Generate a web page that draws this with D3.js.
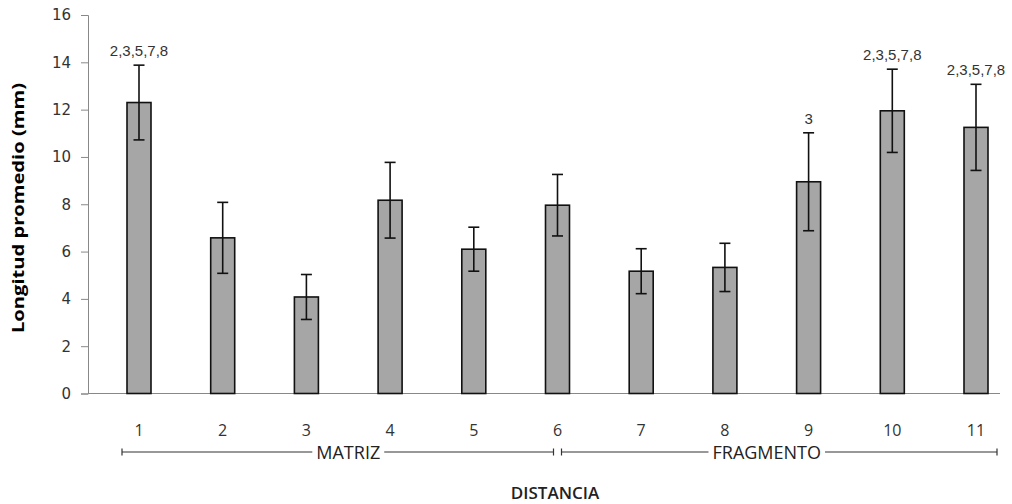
<!DOCTYPE html>
<html>
<head>
    <meta charset='utf-8'>
    <title>Longitud promedio por distancia</title>
    <style>
        body { margin: 0; background: #fff; }
        .bar { fill: #a6a6a6; stroke: #111; stroke-width: 1.6; }
        .err { stroke: #111; stroke-width: 1.6; }
        .yaxis text { font-family: "DejaVu Sans", sans-serif; font-size: 15px; fill: #333; }
        .xlab { font-family: "Open Sans", sans-serif; font-size: 16px; fill: #333; }
        .grp { font-family: "Open Sans", sans-serif; font-size: 18px; fill: #222; }
        .note { font-family: "Liberation Sans", Arial, sans-serif; font-size: 15px; fill: #333; }
    </style>
</head>
<body>
<svg width="1012" height="504"></svg>
<script src="https://cdn.jsdelivr.net/npm/d3@7"></script>
<script>
    const CATEGORIES = ['1', '2', '3', '4', '5', '6', '7', '8', '9', '10', '11'];
    const MEANS = [12.3, 6.58, 4.08, 8.17, 6.1, 7.96, 5.17, 5.33, 8.95, 11.95, 11.25];
    const ERRORS = [1.58, 1.5, 0.95, 1.6, 0.93, 1.3, 0.95, 1.02, 2.07, 1.76, 1.82];
    const NOTES = ['2,3,5,7,8', '', '', '', '', '', '', '', '3', '2,3,5,7,8', '2,3,5,7,8'];
    const Y_TICKS = [0, 2, 4, 6, 8, 10, 12, 14, 16];
    const GROUPS = [
        {name: 'MATRIZ', first: '1', last: '6'},
        {name: 'FRAGMENTO', first: '6', last: '11'}
    ];

    const DATA = CATEGORIES.map((c, i) => ({cat: c, mean: MEANS[i], err: ERRORS[i], note: NOTES[i]}));

    const svg = d3.select('svg');

    const x = d3.scalePoint().domain(CATEGORIES).range([139, 976]);
    const y = d3.scaleLinear().domain([0, 16]).range([393.5, 15]);
    const barW = 24;

    // y axis
    const yAxis = d3.axisLeft(y).tickValues(Y_TICKS).tickSize(7).tickPadding(10);
    const gy = svg.append('g').attr('class', 'yaxis').attr('transform', 'translate(88,0)').call(yAxis);
    gy.selectAll('path, line').attr('stroke', '#888');

    // baseline
    svg.append('line')
        .attr('x1', 88).attr('x2', 1000)
        .attr('y1', y(0)).attr('y2', y(0))
        .attr('stroke', '#888');

    // bars
    svg.selectAll('.bar')
        .data(DATA)
        .enter()
        .append('rect')
        .classed('bar', true)
        .attr('x', d => x(d.cat) - barW / 2)
        .attr('width', barW)
        .attr('y', d => y(d.mean))
        .attr('height', d => y(0) - y(d.mean));

    // error bars
    const eb = svg.selectAll('.eb').data(DATA).enter().append('g').attr('class', 'eb');
    eb.append('line').attr('class', 'err')
        .attr('x1', d => x(d.cat)).attr('x2', d => x(d.cat))
        .attr('y1', d => y(d.mean + d.err)).attr('y2', d => y(d.mean - d.err));
    eb.append('line').attr('class', 'err')
        .attr('x1', d => x(d.cat) - 5.5).attr('x2', d => x(d.cat) + 5.5)
        .attr('y1', d => y(d.mean + d.err)).attr('y2', d => y(d.mean + d.err));
    eb.append('line').attr('class', 'err')
        .attr('x1', d => x(d.cat) - 5.5).attr('x2', d => x(d.cat) + 5.5)
        .attr('y1', d => y(d.mean - d.err)).attr('y2', d => y(d.mean - d.err));

    // significance notes
    svg.selectAll('.note')
        .data(DATA.filter(d => d.note))
        .enter()
        .append('text')
        .classed('note', true)
        .attr('text-anchor', 'middle')
        .attr('x', d => x(d.cat))
        .attr('y', d => y(d.mean + d.err) - 9)
        .text(d => d.note);

    // category labels
    svg.selectAll('.xlab')
        .data(CATEGORIES)
        .enter()
        .append('text')
        .classed('xlab', true)
        .attr('text-anchor', 'middle')
        .attr('x', d => x(d))
        .attr('y', 436)
        .text(d => d);

    // group brackets
    const bracketY = 452;
    GROUPS.forEach((g, i) => {
        const x1 = i === 0 ? x(g.first) - 17 : x(g.first) + 4;
        const x2 = i === 0 ? x(g.last) - 4 : x(g.last) + 21;
        const gg = svg.append('g');
        gg.append('line').attr('x1', x1).attr('x2', x2).attr('y1', bracketY).attr('y2', bracketY)
            .attr('stroke', '#333').attr('stroke-width', 1.2);
        [x1, x2].forEach(xx => gg.append('line')
            .attr('x1', xx).attr('x2', xx).attr('y1', bracketY - 3.5).attr('y2', bracketY + 3.5)
            .attr('stroke', '#333').attr('stroke-width', 1.2));
        const idx = CATEGORIES.indexOf(g.first), idx2 = CATEGORIES.indexOf(g.last);
        const mid = (x(CATEGORIES[Math.floor((idx + idx2) / 2)]) + x(CATEGORIES[Math.ceil((idx + idx2) / 2)])) / 2;
        const t = gg.append('text').classed('grp', true)
            .attr('text-anchor', 'middle')
            .attr('x', mid).attr('y', bracketY + 6.5)
            .text(g.name);
        const bb = t.node().getBBox();
        gg.insert('rect', 'text')
            .attr('x', bb.x - 4).attr('width', bb.width + 8)
            .attr('y', bracketY - 3).attr('height', 6)
            .attr('fill', '#fff');
    });

    // axis titles
    svg.append('text')
        .attr('x', 555).attr('y', 499)
        .attr('text-anchor', 'middle')
        .style('font-family', '"Open Sans", sans-serif')
        .style('font-size', '17px')
        .style('font-weight', 600)
        .style('fill', '#222')
        .text('DISTANCIA');

    svg.append('text')
        .attr('transform', 'translate(24,208) rotate(-90)')
        .attr('text-anchor', 'middle')
        .attr('textLength', 250)
        .attr('lengthAdjust', 'spacingAndGlyphs')
        .style('font-family', '"Open Sans", sans-serif')
        .style('font-size', '16px')
        .style('font-weight', 'bold')
        .style('fill', '#000')
        .text('Longitud promedio (mm)');
</script>
</body>
</html>
